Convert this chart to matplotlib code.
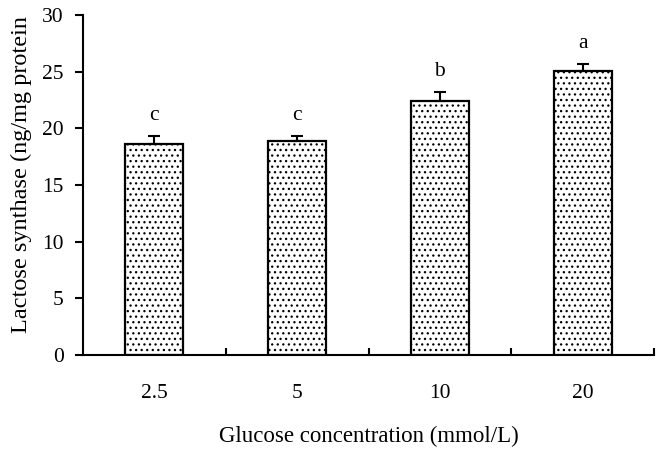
import matplotlib
matplotlib.use("Agg")
import matplotlib.pyplot as plt
import numpy as np

categories = ["2.5", "5", "10", "20"]
values = [18.6, 18.85, 22.4, 25.1]
errors = [0.7, 0.5, 0.8, 0.55]
letters = ["c", "c", "b", "a"]
yticks = [0, 5, 10, 15, 20, 25, 30]

plt.rcParams['font.family'] = ['Liberation Serif', 'DejaVu Serif']
plt.rcParams['hatch.linewidth'] = 0.9
plt.rcParams['hatch.color'] = 'black'

fig = plt.figure(figsize=(6.62, 4.54), dpi=100)
ax = fig.add_axes([0.1254, 0.218, 0.8626, 0.749])

x = np.arange(len(categories))
ax.bar(x, values, width=0.405, color='white', edgecolor='black', linewidth=1.6,
       hatch='...', zorder=2)
ax.errorbar(x, values, yerr=[np.zeros(len(errors)), errors], fmt='none',
            ecolor='black', elinewidth=1.5, capsize=4, capthick=1.5, zorder=3)
for xi, v, e, l in zip(x, values, errors, letters):
    ax.annotate(l, (xi, v + e), xytext=(0, 8), textcoords='offset points',
                ha='center', va='bottom', fontsize=15.5)

ax.set_xlim(-0.5, 3.5)
ax.set_ylim(0, 30)
ax.set_yticks(yticks)
ax.set_yticklabels([str(t) for t in yticks], fontsize=15.5)
ax.set_xticks(x)
ax.set_xticklabels(categories, fontsize=15.5)
ax.tick_params(axis='x', which='major', length=0, pad=21)
ax.set_xticks(np.arange(0.5, 4.0, 1.0), minor=True)
ax.tick_params(axis='x', which='minor', direction='in', length=5, width=1.5)
ax.tick_params(axis='y', direction='out', length=6, width=1.5, pad=8)
for s in ['top', 'right']:
    ax.spines[s].set_visible(False)
for s in ['left', 'bottom']:
    ax.spines[s].set_linewidth(1.5)

ax.set_xlabel("Glucose concentration (mmol/L)", fontsize=16.5, labelpad=16)
fig.text(0.033, 0.267, "Lactose synthase (ng/mg protein", rotation=90,
         fontsize=17.5, ha='center', va='bottom')

fig.savefig("out.png", dpi=100)
